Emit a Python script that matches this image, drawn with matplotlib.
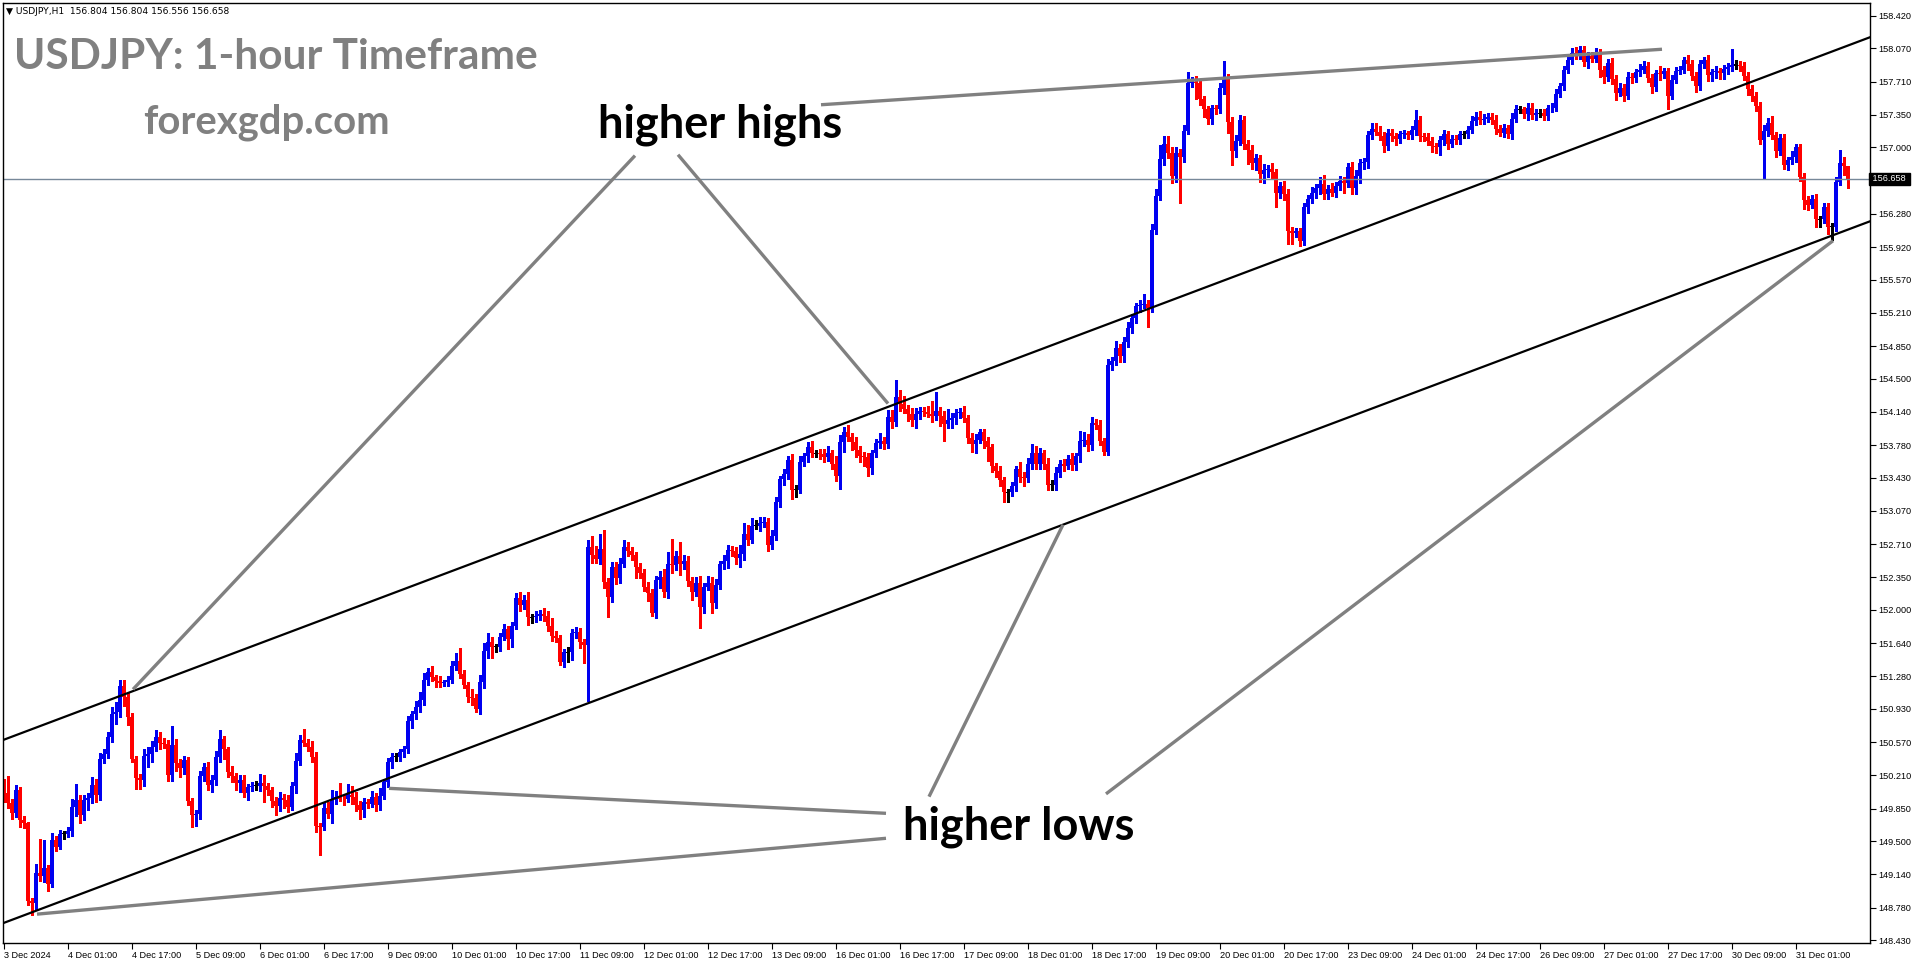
import numpy as np
import matplotlib.pyplot as plt

# USDJPY H1 candles, 3 Dec 09:00 -> 31 Dec 14:00 (open of each bar = previous close)
first_open = 150.09
closes = [
    150.02, 149.91, 149.80, 150.05, 149.73, 149.69, 148.85, 148.83, 149.15, 149.12,
    149.21, 149.04, 149.51, 149.44, 149.58, 149.58, 149.61, 149.87, 149.94, 149.78,
    149.94, 149.97, 150.11, 150.00, 150.39, 150.44, 150.63, 150.87, 150.90, 151.18,
    151.06, 150.84, 150.39, 150.18, 150.16, 150.42, 150.44, 150.52, 150.62, 150.56,
    150.55, 150.21, 150.54, 150.34, 150.29, 150.38, 149.93, 149.78, 149.79, 150.20,
    150.30, 150.11, 150.16, 150.41, 150.60, 150.49, 150.25, 150.20, 150.13, 150.16,
    150.02, 150.08, 150.10, 150.10, 150.13, 150.10, 150.05, 149.93, 149.88, 149.97,
    149.94, 149.87, 150.10, 150.37, 150.59, 150.56, 150.52, 150.41, 149.66, 149.65,
    149.86, 149.79, 149.95, 149.98, 149.96, 149.95, 150.00, 149.98, 149.89, 149.84,
    149.92, 149.90, 149.98, 149.89, 149.99, 150.14, 150.35, 150.41, 150.41, 150.46,
    150.49, 150.80, 150.87, 150.95, 151.03, 151.24, 151.33, 151.27, 151.23, 151.21,
    151.22, 151.24, 151.39, 151.45, 151.31, 151.19, 151.06, 151.05, 150.93, 151.22,
    151.56, 151.65, 151.60, 151.60, 151.71, 151.79, 151.68, 151.83, 152.13, 152.05,
    152.11, 151.92, 151.92, 151.93, 151.96, 151.93, 151.83, 151.72, 151.70, 151.44,
    151.54, 151.54, 151.75, 151.76, 151.65, 151.62, 152.68, 152.59, 152.55, 152.66,
    152.30, 152.14, 152.46, 152.34, 152.50, 152.68, 152.64, 152.59, 152.46, 152.40,
    152.25, 152.18, 151.97, 152.32, 152.36, 152.19, 152.50, 152.48, 152.58, 152.50,
    152.53, 152.31, 152.19, 152.29, 152.03, 152.25, 152.29, 152.07, 152.27, 152.49,
    152.53, 152.65, 152.64, 152.56, 152.60, 152.82, 152.76, 152.91, 152.91, 152.94,
    152.95, 152.70, 152.80, 153.17, 153.41, 153.47, 153.62, 153.30, 153.30, 153.60,
    153.66, 153.76, 153.69, 153.69, 153.68, 153.65, 153.69, 153.58, 153.45, 153.81,
    153.92, 153.87, 153.81, 153.73, 153.66, 153.65, 153.53, 153.69, 153.80, 153.83,
    153.79, 154.08, 154.03, 154.30, 154.23, 154.17, 154.12, 154.05, 154.12, 154.15,
    154.14, 154.12, 154.09, 154.15, 154.09, 154.01, 154.05, 154.07, 154.13, 154.14,
    154.07, 153.86, 153.79, 153.84, 153.92, 153.83, 153.76, 153.55, 153.50, 153.40,
    153.27, 153.27, 153.34, 153.52, 153.44, 153.42, 153.58, 153.69, 153.58, 153.69,
    153.58, 153.35, 153.35, 153.48, 153.58, 153.56, 153.63, 153.57, 153.66, 153.83,
    153.84, 153.78, 154.02, 154.00, 153.82, 153.71, 154.65, 154.69, 154.83, 154.74,
    154.90, 155.05, 155.15, 155.28, 155.30, 155.31, 155.26, 156.11, 156.47, 156.87,
    157.04, 156.94, 156.69, 156.94, 156.90, 157.18, 157.70, 157.71, 157.69, 157.52,
    157.41, 157.31, 157.42, 157.41, 157.64, 157.75, 157.27, 156.96, 157.07, 157.30,
    157.04, 156.97, 156.83, 156.88, 156.71, 156.76, 156.77, 156.73, 156.51, 156.58,
    156.49, 156.10, 156.07, 156.09, 155.99, 156.35, 156.44, 156.51, 156.56, 156.60,
    156.50, 156.55, 156.51, 156.58, 156.64, 156.61, 156.79, 156.56, 156.69, 156.83,
    156.84, 157.13, 157.20, 157.17, 157.12, 157.01, 157.16, 157.12, 157.09, 157.14,
    157.15, 157.13, 157.19, 157.30, 157.12, 157.11, 157.07, 157.01, 157.00, 157.08,
    157.14, 157.04, 157.09, 157.08, 157.14, 157.14, 157.19, 157.28, 157.33, 157.29,
    157.31, 157.33, 157.29, 157.20, 157.16, 157.21, 157.14, 157.31, 157.41, 157.41,
    157.36, 157.42, 157.35, 157.37, 157.37, 157.34, 157.42, 157.43, 157.58, 157.66,
    157.84, 157.94, 158.02, 158.01, 158.05, 157.92, 157.99, 157.96, 158.02, 157.84,
    157.76, 157.91, 157.74, 157.59, 157.64, 157.56, 157.76, 157.75, 157.81, 157.84,
    157.88, 157.75, 157.65, 157.80, 157.79, 157.82, 157.56, 157.73, 157.83, 157.84,
    157.94, 157.90, 157.77, 157.66, 157.90, 157.94, 157.78, 157.81, 157.82, 157.80,
    157.85, 157.87, 157.89, 157.89, 157.88, 157.77, 157.63, 157.56, 157.45, 157.08,
    157.18, 157.26, 157.13, 156.96, 157.10, 156.81, 156.86, 156.90, 157.00, 156.68,
    156.43, 156.38, 156.44, 156.22, 156.22, 156.36, 156.14, 156.14, 156.63, 156.83,
    156.80, 156.658,
]
# wick lengths in pips above / below the candle body
wick_up = [
    8, 18, 4, 6, 3, 4, 2, 3, 10, 37,   30, 3, 8, 5, 4, 3, 4, 8, 18, 6,
    6, 5, 8, 6, 6, 5, 5, 8, 10, 6,     6, 4, 4, 3, 5, 8, 8, 6, 8, 6,
    5, 4, 20, 6, 5, 4, 3, 4, 5, 6,     4, 6, 5, 6, 10, 4, 3, 6, 4, 5,
    5, 4, 4, 5, 10, 8, 3, 3, 5, 6,     4, 6, 4, 8, 6, 12, 4, 6, 5, 3,
    6, 6, 10, 6, 15, 4, 12, 10, 5, 4,  5, 4, 6, 4, 8, 3, 5, 4, 4, 3,
    4, 5, 4, 6, 8, 8, 4, 6, 3, 5,      2, 4, 6, 8, 14, 4, 3, 8, 4, 8,
    8, 10, 6, 3, 4, 6, 3, 4, 5, 6,     5, 8, 4, 6, 4, 6, 6, 8, 5, 3,
    4, 6, 4, 5, 4, 3, 8, 12, 10, 16,   20, 4, 6, 6, 6, 8, 5, 4, 4, 5,
    4, 5, 4, 5, 6, 8, 12, 27, 6, 15,   6, 5, 5, 6, 8, 4, 8, 6, 6, 4,
    6, 5, 4, 4, 10, 12, 10, 8, 6, 6,   5, 4, 6, 5, 4, 5, 4, 6, 5, 6,
    4, 5, 6, 4, 5, 6, 8, 4, 8, 8,      6, 8, 4, 6, 4, 5, 4, 4, 5, 8,
    4, 8, 8, 18, 8, 8, 4, 6, 6, 4,     4, 6, 14, 20, 4, 6, 12, 6, 4, 4,
    6, 4, 5, 6, 4, 4, 4, 3, 4, 5,      4, 4, 4, 4, 8, 5, 6, 10, 8, 6,
    4, 6, 5, 6, 4, 5, 4, 6, 4, 10,     8, 6, 6, 4, 5, 4, 6, 4, 8, 4,
    5, 6, 5, 4, 5, 10, 4, 6, 8, 15,    8, 8, 6, 6, 4, 6, 11, 5, 6, 4,
    4, 4, 4, 4, 6, 18, 4, 6, 6, 5,     4, 4, 5, 5, 4, 6, 4, 6, 4, 5,
    6, 6, 4, 4, 4, 5, 4, 6, 4, 8,      10, 4, 6, 4, 5, 4, 4, 5, 6, 4,
    4, 5, 6, 6, 6, 5, 4, 4, 4, 4,      4, 3, 4, 10, 4, 4, 5, 4, 4, 4,
    5, 4, 4, 4, 4, 4, 4, 6, 5, 6,      5, 4, 4, 6, 4, 4, 3, 6, 5, 4,
    3, 6, 6, 4, 4, 4, 4, 5, 5, 4,      4, 4, 5, 6, 4, 5, 4, 4, 5, 4,
    4, 4, 6, 4, 6, 4, 5, 4, 4, 6,      5, 4, 4, 4, 8, 4, 4, 5, 4, 4,
    4, 6, 4, 4, 4, 4, 6, 4, 6, 4,      4, 4, 17, 5, 4, 4, 4, 4, 4, 4,
    6, 6, 8, 4, 4, 4, 4, 6, 4, 4,      4, 4, 4, 6, 4, 4, 4, 4, 5, 14,
    6, 0,
]
wick_dn = [
    10, 5, 6, 4, 8, 5, 4, 13, 8, 5,    6, 8, 4, 5, 3, 6, 4, 5, 10, 8,
    5, 10, 6, 8, 6, 5, 4, 6, 10, 6,    10, 8, 4, 12, 10, 6, 12, 8, 5, 6,
    4, 6, 6, 8, 10, 6, 4, 13, 12, 5,   5, 6, 8, 5, 6, 10, 6, 6, 8, 10,
    4, 8, 4, 5, 6, 18, 5, 6, 10, 6,    8, 6, 3, 8, 5, 3, 5, 6, 6, 30,
    3, 4, 10, 5, 3, 6, 3, 8, 6, 10,    8, 4, 3, 6, 5, 4, 6, 6, 4, 4,
    5, 4, 8, 5, 6, 6, 5, 4, 6, 4,      3, 4, 3, 4, 5, 4, 6, 8, 4, 6,
    6, 8, 12, 6, 5, 4, 10, 8, 4, 6,    4, 8, 6, 5, 4, 5, 6, 6, 5, 4,
    6, 10, 8, 6, 6, 20, 61, 8, 4, 6,   6, 22, 6, 6, 5, 4, 6, 5, 12, 6,
    5, 8, 4, 6, 8, 5, 6, 8, 5, 12,     6, 5, 8, 4, 23, 6, 4, 10, 5, 5,
    5, 8, 6, 6, 10, 6, 6, 4, 4, 6,     4, 6, 4, 5, 6, 6, 6, 10, 8, 4,
    4, 6, 4, 4, 5, 5, 4, 6, 6, 14,     10, 5, 8, 8, 6, 10, 8, 6, 4, 5,
    5, 4, 6, 4, 8, 4, 8, 6, 8, 6,      4, 4, 6, 4, 10, 18, 4, 8, 6, 6,
    4, 6, 8, 10, 4, 8, 15, 6, 6, 6,    10, 10, 4, 6, 6, 8, 4, 6, 6, 6,
    6, 6, 6, 5, 4, 6, 4, 6, 6, 6,      6, 6, 5, 4, 4, 4, 4, 6, 4, 6,
    6, 6, 6, 5, 6, 4, 20, 4, 5, 4,     6, 6, 8, 6, 50, 6, 4, 5, 17, 6,
    8, 6, 6, 5, 4, 6, 12, 15, 6, 4,    6, 15, 6, 8, 8, 10, 8, 6, 15, 6,
    6, 15, 12, 4, 6, 5, 6, 4, 6, 6,    6, 6, 4, 5, 4, 10, 4, 6, 6, 8,
    6, 6, 4, 4, 4, 6, 4, 5, 6, 4,      4, 4, 4, 6, 5, 4, 4, 6, 6, 8,
    6, 6, 4, 4, 4, 4, 4, 4, 4, 4,      4, 4, 4, 6, 4, 5, 4, 5, 4, 4,
    4, 6, 4, 5, 4, 4, 5, 4, 4, 4,      4, 4, 4, 6, 6, 4, 6, 4, 4, 8,
    6, 4, 6, 8, 4, 6, 4, 6, 4, 4,      4, 4, 6, 4, 6, 4, 15, 4, 4, 4,
    4, 6, 4, 6, 4, 4, 6, 6, 6, 6,      6, 6, 4, 4, 6, 4, 6, 6, 6, 4,
    41, 6, 4, 6, 4, 4, 6, 4, 6, 4,     10, 6, 4, 8, 8, 4, 8, 14, 4, 4,
    10, 10,
]

x_labels = [
    "3 Dec 2024", "4 Dec 01:00", "4 Dec 17:00", "5 Dec 09:00", "6 Dec 01:00",
    "6 Dec 17:00", "9 Dec 09:00", "10 Dec 01:00", "10 Dec 17:00", "11 Dec 09:00",
    "12 Dec 01:00", "12 Dec 17:00", "13 Dec 09:00", "16 Dec 01:00", "16 Dec 17:00",
    "17 Dec 09:00", "18 Dec 01:00", "18 Dec 17:00", "19 Dec 09:00", "20 Dec 01:00",
    "20 Dec 17:00", "23 Dec 09:00", "24 Dec 01:00", "24 Dec 17:00", "26 Dec 09:00",
    "27 Dec 01:00", "27 Dec 17:00", "30 Dec 09:00", "31 Dec 01:00",
]
bars_per_label = 16
y_ticks = [158.420, 158.070, 157.710, 157.350, 157.000, 156.280, 155.920, 155.570,
           155.210, 154.850, 154.500, 154.140, 153.780, 153.430, 153.070, 152.710,
           152.350, 152.000, 151.640, 151.280, 150.930, 150.570, 150.210, 149.850,
           149.500, 149.140, 148.780, 148.430]
last_price = 156.658
header = "\u25bc USDJPY,H1  156.804 156.804 156.556 156.658"

# channel lines (bar index, price)
channel_x = [-1, 466.5]
upper_channel = [150.58, 158.19]
lower_channel = [148.60, 156.20]

# grey pointer lines (bar index pairs, price pairs)
grey_x = [[204.25, 414.5], [157.75, 32.25], [168.5, 221.0], [264.75, 231.25],
          [457.25, 275.5], [96.25, 220.5], [8.25, 220.5]]
grey_y = [[157.46, 158.06], [156.91, 151.14], [156.92, 154.23], [152.92, 149.98],
          [155.99, 150.01], [150.07, 149.80], [148.71, 149.53]]

assert len(closes) == len(wick_up) == len(wick_dn), (len(closes), len(wick_up), len(wick_dn))

closes = np.array(closes)
opens = np.concatenate([[first_open], closes[:-1]])
highs = np.maximum(opens, closes) + np.array(wick_up) / 100
lows = np.minimum(opens, closes) - np.array(wick_dn) / 100
idx = np.arange(len(closes))

W, H = 1916, 964
fig = plt.figure(figsize=(W / 100, H / 100), dpi=100)
ax = fig.add_axes([3 / W, 21 / H, 1867 / W, 940 / H])

up = closes > opens
dn = closes < opens
flat = ~(up | dn)
blue, red = "#0000f0", "#ff0000"

ax.vlines(idx[up], lows[up], highs[up], color=blue, lw=1.0, antialiased=False)
ax.vlines(idx[dn], lows[dn], highs[dn], color=red, lw=1.0, antialiased=False)
ax.vlines(idx[flat], lows[flat], highs[flat], color="black", lw=1.0, antialiased=False)
ax.bar(idx[up], (closes - opens)[up], bottom=opens[up], width=0.8, color=blue,
       linewidth=0, antialiased=False)
ax.bar(idx[dn], (opens - closes)[dn], bottom=closes[dn], width=0.8, color=red,
       linewidth=0, antialiased=False)
ax.bar(idx[flat], 0.012, bottom=closes[flat] - 0.006, width=0.8, color="black",
       linewidth=0, antialiased=False)

ax.axhline(last_price, color="#778899", lw=1.0)

ax.plot(channel_x, upper_channel, color="black", lw=1.6)
ax.plot(channel_x, lower_channel, color="black", lw=1.6)
for gx, gy in zip(grey_x, grey_y):
    ax.plot(gx, gy, color="#808080", lw=2.4, solid_capstyle="butt")

ax.set_xlim(-0.25, 466.5)
ax.set_ylim(148.398, 158.56)

ax.yaxis.tick_right()
ax.set_yticks(y_ticks)
ax.set_yticklabels([f"{v:.3f}" for v in y_ticks], fontsize=6.6, family="Liberation Sans")
ax.set_xticks(np.arange(len(x_labels)) * bars_per_label)
ax.set_xticklabels(x_labels, fontsize=6.6, family="Liberation Sans", ha="left")
ax.tick_params(axis="both", direction="out", length=4, width=0.8, pad=2)
for s in ax.spines.values():
    s.set_linewidth(1.0)
    s.set_color("black")

ax.text(1.0, last_price, f" {last_price:.3f} ", transform=ax.get_yaxis_transform(),
        ha="left", va="center", fontsize=6.6, family="Liberation Sans", color="white",
        bbox=dict(boxstyle="square,pad=0.15", fc="black", ec="black"), clip_on=False)

fig.text(6 / W, 1 - 12 / H, header, fontsize=6.6, family=["DejaVu Sans"],
         ha="left", va="center")
fig.text(14 / W, 1 - 57 / H, "USDJPY: 1-hour Timeframe", fontsize=30.5, family="Lato",
         weight="bold", color="#808080", ha="left", va="center")
fig.text(143 / W, 1 - 122 / H, "forexgdp.com", fontsize=28.8, family="Lato",
         weight="bold", color="#808080", ha="left", va="center")
fig.text(598 / W, 1 - 125 / H, "higher highs", fontsize=32.5, family="Lato",
         weight="bold", color="black", ha="left", va="center")
fig.text(903 / W, 1 - 827 / H, "higher lows", fontsize=32.5, family="Lato",
         weight="bold", color="black", ha="left", va="center")

fig.savefig("out.png", dpi=100)
